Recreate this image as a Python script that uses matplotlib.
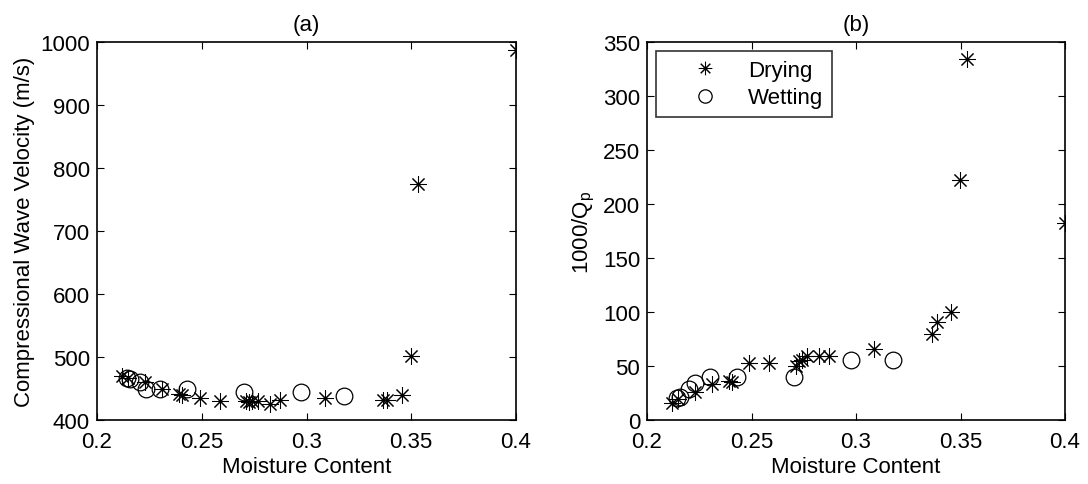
import matplotlib
matplotlib.use("Agg")
import matplotlib.pyplot as plt
from matplotlib.ticker import FixedLocator

plt.rcParams['font.family'] = ['Liberation Sans', 'DejaVu Sans']

# Drying series
x_dry = [0.212, 0.215, 0.223, 0.231, 0.239, 0.2405, 0.249, 0.2585, 0.2713, 0.2725,
         0.274, 0.2767, 0.2824, 0.2872, 0.3087, 0.3366, 0.3386, 0.3456, 0.3498, 0.3533, 0.400]
vel_dry = [470, 466, 461, 450, 441, 440, 435, 430, 430, 428,
           430, 430, 425, 431, 435, 431, 431, 440, 501, 775, 987]
q_dry = [16, 19, 26, 33, 36, 35, 53, 53, 50, 55,
         56, 59, 59, 59, 66, 80, 91, 100, 222, 334, 182]

# Wetting series
x_wet = [0.2143, 0.2157, 0.2203, 0.2232, 0.2303, 0.243, 0.2702, 0.2974, 0.3178]
vel_wet = [466, 465, 461, 450, 450, 450, 445, 445, 438]
q_wet = [20, 21, 29, 34, 40, 40, 40, 56, 56]

x_ticks = [0.2, 0.25, 0.3, 0.35, 0.4]
x_tick_labels = ["0.2", "0.25", "0.3", "0.35", "0.4"]
vel_ticks = [400, 500, 600, 700, 800, 900, 1000]
q_ticks = [0, 50, 100, 150, 200, 250, 300, 350]

FS = 16
W, H = 1088, 485
fig = plt.figure(figsize=(W / 100, H / 100), dpi=100)

ax1 = fig.add_axes([97 / W, 1 - 421 / H, (516 - 97) / W, (421 - 43) / H])
ax2 = fig.add_axes([647 / W, 1 - 421 / H, (1065 - 647) / W, (421 - 43) / H])

star = (8, 2, 0)
for ax, yd, yw in ((ax1, vel_dry, vel_wet), (ax2, q_dry, q_wet)):
    ax.plot(x_dry, yd, linestyle='none', marker=star, ms=12, mew=0.75,
            color='black', label='Drying')
    ax.plot(x_wet, yw, linestyle='none', marker='o', ms=12, mew=0.9,
            mfc='none', mec='black', label='Wetting')
    ax.set_xlim(0.2, 0.4)
    ax.xaxis.set_major_locator(FixedLocator(x_ticks))
    ax.set_xticklabels(x_tick_labels)
    ax.tick_params(direction='in', top=True, right=True, length=5, width=0.8,
                   labelsize=FS)
    ax.tick_params(axis='x', pad=8)
    ax.tick_params(axis='y', pad=5)
    for s in ax.spines.values():
        s.set_linewidth(1.2)
    ax.set_xlabel('Moisture Content', fontsize=FS, labelpad=3)

ax1.set_ylim(400, 1000)
ax1.set_yticks(vel_ticks)
ax1.set_ylabel('Compressional Wave Velocity (m/s)', fontsize=FS, labelpad=4)
ax1.set_title('(a)', fontsize=FS, pad=9)

ax2.set_ylim(0, 350)
ax2.set_yticks(q_ticks)
ax2.set_ylabel('1000/Q$_\\mathregular{p}$', fontsize=FS, labelpad=4)
ax2.set_title('(b)', fontsize=FS, pad=9)

leg = ax2.legend(loc='upper left', fontsize=FS, frameon=True, fancybox=False,
                 edgecolor='black', borderaxespad=0.4, handlelength=3.6,
                 handletextpad=0.15, borderpad=0.4, labelspacing=0.3,
                 markerscale=0.8)
leg.get_frame().set_linewidth(1.2)

fig.savefig('out.png', dpi=100)
